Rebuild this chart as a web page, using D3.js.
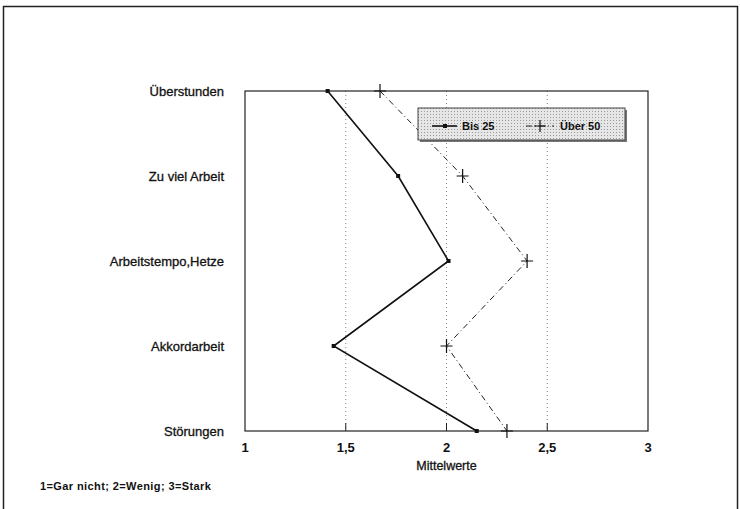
<!DOCTYPE html>
<html>
<head>
    <meta charset="utf-8">
    <script src="https://d3js.org/d3.v7.min.js"></script>
    <style>
        body { margin: 0; background: #fff; }
        text { font-family: "Liberation Sans", Arial, sans-serif; fill: #111; }
    </style>
</head>
<body>
</body>
<script>
    let categories = ["Überstunden", "Zu viel Arbeit", "Arbeitstempo,Hetze", "Akkordarbeit", "Störungen"];
    let bis25 = [1.41, 1.76, 2.01, 1.44, 2.15];
    let ueber50 = [1.67, 2.08, 2.40, 2.00, 2.30];
    let seriesNames = ["Bis 25", "Über 50"];
    let xTicks = [1, 1.5, 2, 2.5, 3];
    let xTickLabels = ["1", "1,5", "2", "2,5", "3"];

    let width = 740, height = 509;
    let plotLeft = 245, plotRight = 648, plotTop = 91, plotBottom = 431;

    let svg = d3.select("body").append("svg")
        .attr("width", width)
        .attr("height", height);

    // dotted fill for the legend box
    let defs = svg.append("defs");
    let pat = defs.append("pattern")
        .attr("id", "dots")
        .attr("width", 3).attr("height", 3)
        .attr("patternUnits", "userSpaceOnUse");
    pat.append("rect").attr("width", 3).attr("height", 3).attr("fill", "#e6e6e6");
    pat.append("rect").attr("width", 1).attr("height", 1).attr("fill", "#9a9a9a");

    // outer frame
    svg.append("rect")
        .attr("x", 3.5).attr("y", 6.5)
        .attr("width", 734).attr("height", 520)
        .attr("fill", "none")
        .attr("stroke", "#222")
        .attr("stroke-width", 1.5);

    let x = d3.scaleLinear().domain([1, 3]).range([plotLeft, plotRight]);
    let y = d3.scalePoint().domain(categories).range([plotTop, plotBottom]);

    // grid lines
    svg.append("g")
        .selectAll("line")
        .data(xTicks.slice(1, -1))
        .join("line")
            .attr("x1", d => x(d)).attr("x2", d => x(d))
            .attr("y1", plotTop).attr("y2", plotBottom)
            .attr("stroke", "#888")
            .attr("stroke-width", 1)
            .attr("stroke-dasharray", "1,3");

    // short tick marks above bottom axis
    svg.append("g")
        .selectAll("line")
        .data(xTicks.slice(1, -1))
        .join("line")
            .attr("x1", d => x(d)).attr("x2", d => x(d))
            .attr("y1", plotBottom - 8).attr("y2", plotBottom)
            .attr("stroke", "#222");

    // plot frame
    svg.append("rect")
        .attr("x", plotLeft).attr("y", plotTop)
        .attr("width", plotRight - plotLeft).attr("height", plotBottom - plotTop)
        .attr("fill", "none")
        .attr("stroke", "#222")
        .attr("stroke-width", 1.2);

    // x tick labels
    svg.append("g")
        .selectAll("text")
        .data(xTicks)
        .join("text")
            .attr("x", d => x(d))
            .attr("y", plotBottom + 21)
            .attr("text-anchor", "middle")
            .attr("font-size", 13)
            .attr("font-weight", "bold")
            .text((d, i) => xTickLabels[i]);

    svg.append("text")
        .attr("x", x(2))
        .attr("y", plotBottom + 39)
        .attr("text-anchor", "middle")
        .attr("font-size", 12.5)
        .attr("stroke", "#111").attr("stroke-width", 0.3)
        .text("Mittelwerte");

    // category labels
    svg.append("g")
        .selectAll("text")
        .data(categories)
        .join("text")
            .attr("x", 224)
            .attr("y", d => y(d) + 5)
            .attr("text-anchor", "end")
            .attr("font-size", 13)
            .attr("stroke", "#111").attr("stroke-width", 0.3)
            .text(d => d);

    svg.append("text")
        .attr("x", 40).attr("y", 490)
        .attr("font-size", 11)
        .attr("font-weight", "bold")
        .attr("letter-spacing", 0.4)
        .text("1=Gar nicht; 2=Wenig; 3=Stark");

    let line = d3.line()
        .x(d => x(d.v))
        .y(d => y(d.c));

    let d1 = categories.map((c, i) => ({c: c, v: bis25[i]}));
    let d2 = categories.map((c, i) => ({c: c, v: ueber50[i]}));

    svg.append("path")
        .datum(d2)
        .attr("fill", "none")
        .attr("stroke", "#222")
        .attr("stroke-width", 1)
        .attr("stroke-dasharray", "6,3,1,3")
        .attr("d", line);

    svg.append("path")
        .datum(d1)
        .attr("fill", "none")
        .attr("stroke", "#111")
        .attr("stroke-width", 1.6)
        .attr("d", line);

    svg.append("g")
        .selectAll("path")
        .data(d2)
        .join("path")
            .attr("transform", d => `translate(${x(d.v)},${y(d.c)})`)
            .attr("d", "M-6,0H6M0,-7V7")
            .attr("stroke", "#111")
            .attr("stroke-width", 1.2)
            .attr("fill", "none");

    svg.append("g")
        .selectAll("rect")
        .data(d1)
        .join("rect")
            .attr("x", d => x(d.v) - 2)
            .attr("y", d => y(d.c) - 2)
            .attr("width", 4).attr("height", 4)
            .attr("fill", "#111");

    // legend
    let lg = svg.append("g").attr("transform", "translate(418,108)");
    lg.append("rect")
        .attr("x", 2).attr("y", 2)
        .attr("width", 207).attr("height", 32)
        .attr("fill", "#777");
    lg.append("rect")
        .attr("width", 207).attr("height", 32)
        .attr("fill", "url(#dots)")
        .attr("stroke", "#444")
        .attr("stroke-width", 1);

    lg.append("line")
        .attr("x1", 14).attr("x2", 39).attr("y1", 18).attr("y2", 18)
        .attr("stroke", "#111").attr("stroke-width", 1.6);
    lg.append("rect")
        .attr("x", 25).attr("y", 16).attr("width", 4).attr("height", 4)
        .attr("fill", "#111");
    lg.append("text")
        .attr("x", 44).attr("y", 22)
        .attr("font-size", 11).attr("font-weight", "bold")
        .text(seriesNames[0]);

    lg.append("line")
        .attr("x1", 108).attr("x2", 136).attr("y1", 18).attr("y2", 18)
        .attr("stroke", "#222").attr("stroke-width", 1)
        .attr("stroke-dasharray", "6,3,1,3");
    lg.append("path")
        .attr("transform", "translate(122,18)")
        .attr("d", "M-6,0H6M0,-6V6")
        .attr("stroke", "#111").attr("stroke-width", 1.2);
    lg.append("text")
        .attr("x", 142).attr("y", 22)
        .attr("font-size", 11).attr("font-weight", "bold")
        .text(seriesNames[1]);
</script>
</html>
